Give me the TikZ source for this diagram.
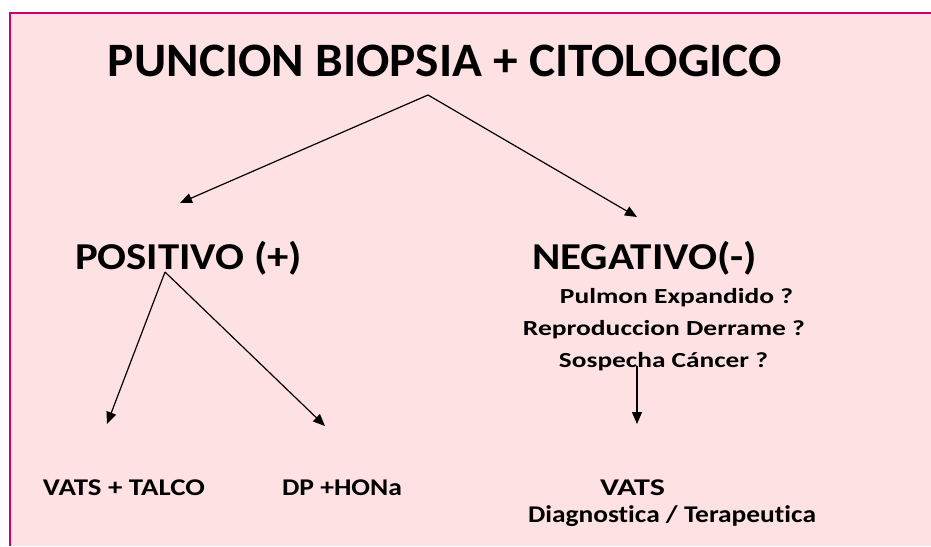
\documentclass[tikz,border=0pt]{standalone}
\usepackage{fontspec}
\usepackage{graphicx}
\setmainfont{Carlito}[Ligatures=NoCommon]
\usetikzlibrary{arrows.meta}
\definecolor{bgpink}{RGB}{254,225,226}
\definecolor{frame}{RGB}{204,0,110}
\newcommand{\fitw}[2]{\resizebox{#1}{\height}{#2}}
\tikzset{
  lbl/.style={anchor=base, inner sep=0pt, font=\bfseries},
  big/.style={lbl, font=\bfseries\fontsize{38}{40}\selectfont},
  small/.style={lbl, font=\bfseries\fontsize{21.5}{23}\selectfont},
  low/.style={lbl, font=\bfseries\fontsize{24}{26}\selectfont},
  arr/.style={line width=1.2pt, -{Triangle[length=12pt,width=10pt]}},
}
\begin{document}
\begin{tikzpicture}[x=1pt,y=-1pt]
\useasboundingbox (0,0) rectangle (931,546);
\fill[white] (0,0) rectangle (931,546);
\fill[bgpink] (10,13) rectangle (931,546);
\draw[frame, line width=2pt] (10,546) -- (10,13) -- (931,13);

\node[lbl, font=\bfseries\fontsize{48}{50}\selectfont] (title) at (445,76.5) {\fitw{674pt}{PUNCION BIOPSIA + CITOLOGICO}};
\node[big] (pos) at (188.5,269) {\fitw{227pt}{POSITIVO (+)}};
\node[big] (neg) at (644.5,269) {\fitw{225pt}{NEGATIVO(-)}};
\node[small] (q1) at (676.5,303) {\fitw{233pt}{Pulmon Expandido ?}};
\node[small] (q2) at (664,335) {\fitw{282pt}{Reproduccion Derrame ?}};
\node[small] (q3) at (663.5,367) {\fitw{209pt}{Sospecha Cáncer ?}};
\node[low] (vt) at (124,495.5) {\fitw{162pt}{VATS + TALCO}};
\node[low] (dp) at (342,495.5) {\fitw{120pt}{DP +HONa}};
\node[low] (vats) at (632.5,495) {\fitw{65pt}{VATS}};
\node[low] (diag) at (672,522) {\fitw{288pt}{Diagnostica / Terapeutica}};

\coordinate (tstart) at (428,95);
\coordinate (tl) at (180,203);
\coordinate (tr) at (637,217);
\coordinate (pstart) at (165,272);
\coordinate (pl) at (107,424);
\coordinate (pr) at (325,426);
\coordinate (nstart) at (637,366);
\coordinate (nend) at (637,424);

\draw[arr] (tstart) -- (tl);
\draw[arr] (tstart) -- (tr);
\draw[arr] (pstart) -- (pl);
\draw[arr] (pstart) -- (pr);
\draw[arr] (nstart) -- (nend);
\end{tikzpicture}
\end{document}
